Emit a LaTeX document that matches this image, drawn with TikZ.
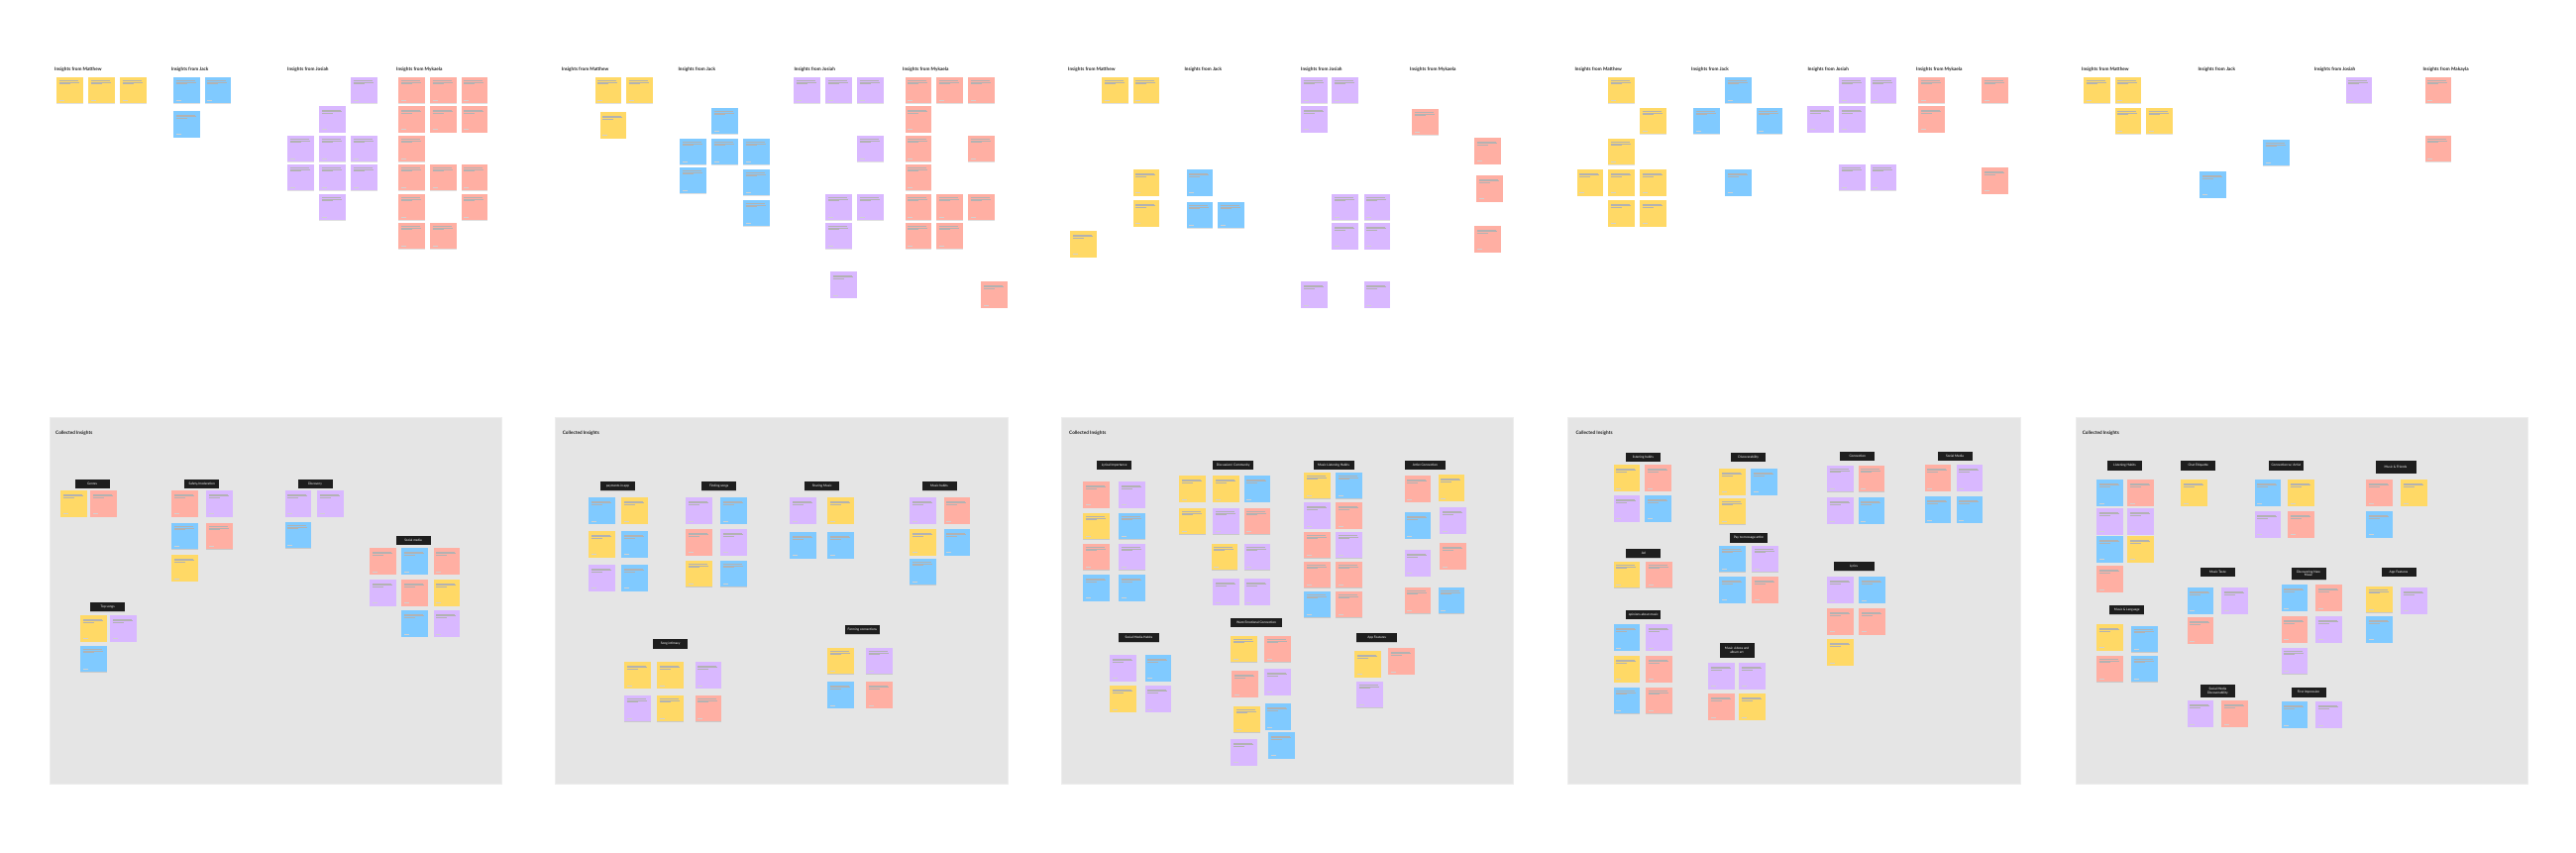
\documentclass[tikz,border=0pt]{standalone}
\usepackage{fontspec}
\setmainfont{Lato}
\usetikzlibrary{shadows}
\definecolor{stY}{HTML}{FFD966}
\definecolor{stR}{HTML}{FFAFA3}
\definecolor{stB}{HTML}{80CAFF}
\definecolor{stP}{HTML}{D9B8FF}
\definecolor{panelgray}{HTML}{E5E5E5}
\definecolor{tagblack}{HTML}{1E1E1E}
\definecolor{ink}{HTML}{1E1E1E}
\tikzset{
  sticky/.style={anchor=north west, minimum width=26.5pt, minimum height=26.5pt,
    inner sep=0pt, outer sep=0pt,
    drop shadow={shadow xshift=0pt, shadow yshift=-0.6pt, opacity=0.12, fill=black},
    path picture={
      \draw[black!30,line width=0.2pt]
        ([shift={(2.5pt,-3.6pt)}]path picture bounding box.north west) -- ++(19pt,0pt)
        ([shift={(2.5pt,-5.1pt)}]path picture bounding box.north west) -- ++(20pt,0pt)
        ([shift={(2.5pt,-6.6pt)}]path picture bounding box.north west) -- ++(11pt,0pt);
      \draw[black!18,line width=0.2pt]
        ([shift={(2.5pt,-23.3pt)}]path picture bounding box.north west) -- ++(5pt,0pt);
    }},
  tag/.style={anchor=north west, fill=tagblack, text=white,
    font=\fontsize{3.2}{3.8}\selectfont, minimum width=35pt, minimum height=9.3pt,
    inner sep=0.5pt, align=center,
    drop shadow={shadow xshift=0pt, shadow yshift=-0.5pt, opacity=0.15, fill=black}},
  hdr/.style={anchor=west, inner sep=0pt, font=\fontsize{4.7}{5.5}\selectfont\bfseries, text=ink},
  panelbox/.style={fill=panelgray, draw=black!7, line width=0.8pt}
}
\begin{document}
\begin{tikzpicture}[x=1pt,y=-1pt]
\useasboundingbox (0,0) rectangle (2600,861);
\fill[white] (0,0) rectangle (2600,861);

% ---------------- panels ----------------
\foreach \lx/\rx [count=\i] in {50/506.7,560/1017.3,1071/1527.7,1582.7/2039.3,2095/2551.7}
  \path[panelbox] (\lx,421.7) rectangle (\rx,791);
\foreach \lx [count=\i] in {56,567.7,1079,1590.3,2101.7}
  \node[hdr] (ci\i) at (\lx,437) {Collected Insights};

% ---------------- top headers ----------------
\node[hdr] (h1m) at (55,69.7) {Insights from Matthew};
\node[hdr] (h1j) at (172.7,69.7) {Insights from Jack};
\node[hdr] (h1o) at (290,69.7) {Insights from Josiah};
\node[hdr] (h1k) at (400,69.7) {Insights from Mykaela};
\node[hdr] (h2m) at (566.7,69.7) {Insights from Matthew};
\node[hdr] (h2j) at (684.3,69.7) {Insights from Jack};
\node[hdr] (h2o) at (801.3,69.7) {Insights from Josiah};
\node[hdr] (h2k) at (911,69.7) {Insights from Mykaela};
\node[hdr] (h3m) at (1078,69.7) {Insights from Matthew};
\node[hdr] (h3j) at (1195.3,69.7) {Insights from Jack};
\node[hdr] (h3o) at (1313,69.7) {Insights from Josiah};
\node[hdr] (h3k) at (1423,69.7) {Insights from Mykaela};
\node[hdr] (h4m) at (1589.3,69.7) {Insights from Matthew};
\node[hdr] (h4j) at (1707,69.7) {Insights from Jack};
\node[hdr] (h4o) at (1824.3,69.7) {Insights from Josiah};
\node[hdr] (h4k) at (1934,69.7) {Insights from Mykaela};
\node[hdr] (h5m) at (2101,69.7) {Insights from Matthew};
\node[hdr] (h5j) at (2218.3,69.7) {Insights from Jack};
\node[hdr] (h5o) at (2335.7,69.7) {Insights from Josiah};
\node[hdr] (h5k) at (2445.3,69.7) {Insights from Makayla};

% ---------------- top stickies ----------------
\foreach \cl/\x/\y [count=\i] in {
  Y/57.3/77.7, Y/89.3/77.7, Y/121/77.7,
  B/175/77.7, B/206.7/77.7, B/175/112.3,
  P/354/77.7, P/322.3/107.3, P/290/136.7, P/322.3/136.7, P/354/136.7,
  P/290/166, P/322.3/166, P/354/166, P/322.3/195.7,
  R/402.3/77.7, R/434/77.7, R/465.7/77.7, R/402.3/107.3, R/434/107.3, R/465.7/107.3,
  R/402.3/136.7, R/402.3/166, R/434/166, R/465.7/166, R/402.3/195.7, R/465.7/195.7,
  R/402.3/225, R/434/225}
  \node[sticky,fill=st\cl] (ta\i) at (\x,\y) {};

\foreach \cl/\x/\y [count=\i] in {
  Y/600.7/77.7, Y/632.3/77.7, Y/605.7/113.3,
  B/718/109, B/686.3/140, B/718/140, B/750/140, B/686.3/169, B/750/171, B/750/202,
  P/801.3/77.7, P/833.3/77.7, P/865/77.7, P/865/136.7, P/833.3/195.7, P/865/195.7,
  P/833.3/225, P/838.3/274.3,
  R/913.7/77.7, R/945/77.7, R/977/77.7, R/913.7/107.3, R/913.7/136.7, R/977/136.7,
  R/913.7/166, R/913.7/195.7, R/945/195.7, R/977/195.7, R/913.7/225, R/945/225,
  R/990.3/284.3}
  \node[sticky,fill=st\cl] (tb\i) at (\x,\y) {};

\foreach \cl/\x/\y [count=\i] in {
  Y/1112/77.7, Y/1143.7/77.7, Y/1143.7/171.3, Y/1143.7/202.3, Y/1080.3/233.3,
  B/1197.7/171.3, B/1197.7/204, B/1229.3/204,
  P/1313/77.7, P/1344.3/77.7, P/1313/107.3, P/1344.3/195.7, P/1376.7/195.7,
  P/1344.3/225.3, P/1376.7/225.3, P/1313/284.3, P/1376.7/284.3,
  R/1425/110, R/1488.3/139.3, R/1490/177.3, R/1488.3/228.3}
  \node[sticky,fill=st\cl] (tc\i) at (\x,\y) {};

\foreach \cl/\x/\y [count=\i] in {
  Y/1623.3/77.7, Y/1655/109, Y/1623.3/140, Y/1591.7/171.3, Y/1623.3/171.3,
  Y/1655/171.3, Y/1623.3/202.3, Y/1655/202.3,
  B/1741/77.7, B/1709.3/109, B/1772.7/109, B/1741/171.3,
  P/1856/77.7, P/1887.7/77.7, P/1824.3/107.3, P/1856/107.3, P/1856/166, P/1887.7/166,
  R/1936.3/77.7, R/2000/77.7, R/1936.3/107.3, R/2000/169.3}
  \node[sticky,fill=st\cl] (td\i) at (\x,\y) {};

\foreach \cl/\x/\y [count=\i] in {
  Y/2103/77.7, Y/2134.7/77.7, Y/2134.7/109, Y/2166.3/109,
  B/2284/141, B/2220.3/173.3,
  P/2367.7/77.7,
  R/2447.7/77.7, R/2447.7/136.7}
  \node[sticky,fill=st\cl] (te\i) at (\x,\y) {};

% ---------------- panel 1 ----------------
\node[tag] (g1a) at (75.3,483.3) {Genres};
\node[tag] (g1b) at (186,483.3) {Safety/moderation};
\node[tag] (g1c) at (300.3,483.3) {Discovery};
\node[tag] (g1d) at (399.3,540.3) {Social media};
\node[tag] (g1e) at (91,607.7) {Top songs};
\foreach \cl/\x/\y [count=\i] in {
  Y/61.3/495, R/91.3/495,
  R/173.3/495, P/208.3/495, B/173.3/527.7, R/208.3/527.7, Y/173.3/560.3,
  P/287.7/495, P/320/495, B/287.7/526.7,
  R/373.3/553.3, B/405.3/553.3, R/437.7/553.3, P/373.3/585, R/405.3/585, Y/437.7/585,
  B/405.3/616.3, P/437.7/616.3,
  Y/81.3/621, P/111/621, B/81.3/651.7}
  \node[sticky,fill=st\cl] (pa\i) at (\x,\y) {};

% ---------------- panel 2 ----------------
\node[tag] (g2a) at (605.7,485.7) {payments in app};
\node[tag] (g2b) at (708,485.7) {Finding songs};
\node[tag] (g2c) at (812,485.7) {Sharing Music};
\node[tag] (g2d) at (930.3,485.7) {Music habits};
\node[tag] (g2e) at (659,645) {Song intimacy};
\node[tag] (g2f) at (852.7,630.7) {Forming connections};
\foreach \cl/\x/\y [count=\i] in {
  B/594/502.3, Y/627.3/502.3, Y/594/536, B/627.3/536, P/594/570, B/627.3/570,
  P/692.3/502.3, B/727.3/502.3, R/692.3/534, P/727.3/534, Y/692.3/565.7, B/727.3/565.7,
  P/797.3/502.3, Y/835/502.3, B/797.3/537, B/835/537,
  P/918/502.3, R/952.7/502.3, Y/918/534, B/952.7/534, B/918/563.7,
  Y/630.3/668.3, Y/663.3/668.3, P/701.7/668.3, P/630.3/701.7, Y/663.3/701.7, R/701.7/701.7,
  Y/835.3/653.7, P/874/653.7, B/835.3/688.3, R/874/688.3}
  \node[sticky,fill=st\cl] (pb\i) at (\x,\y) {};

% ---------------- panel 3 ----------------
\node[tag] (g3a) at (1107,464.3) {Lyrical Importance};
\node[tag,minimum width=41pt] (g3b) at (1224,464.3) {Discussion/ Community};
\node[tag,minimum width=41pt] (g3c) at (1325.3,464.3) {Music Listening Habits};
\node[tag,minimum width=41pt] (g3d) at (1417.7,464.3) {Artist Connection};
\node[tag,minimum width=41pt] (g3e) at (1128.7,638.7) {Social Media Habits};
\node[tag,minimum width=51.7pt] (g3f) at (1242,623.3) {Want Emotional Connection};
\node[tag,minimum width=41pt] (g3g) at (1369,638.7) {App Features};
\foreach \cl/\x/\y [count=\i] in {
  R/1093.3/486, P/1129/486, Y/1093.3/517.7, B/1129/517.7, R/1093.3/548.7, P/1129/548.7,
  B/1093.3/580, B/1129/580,
  Y/1190.3/480.3, Y/1224.3/480.3, B/1255.7/480.3, Y/1190.3/512.7, P/1224.3/512.7,
  R/1255.7/512.7, Y/1222.7/548.7, P/1255.7/548.7, P/1224.3/584.3, P/1255.7/584.3,
  Y/1316.3/476.7, B/1348/476.7, P/1316.3/507.3, R/1348/507.3, R/1316.3/536.7,
  P/1348/536.7, R/1316.3/566.7, R/1348/566.7, B/1316.3/596.7, R/1348/596.7,
  R/1417.7/480.3, Y/1451.7/479.3, B/1417.7/517.3, P/1453.3/512.3, P/1417.7/555,
  R/1453.3/548.3, R/1417.7/592.7, B/1451.7/592.7,
  P/1120/661, B/1155.7/661, Y/1120/692.3, P/1155.7/692.3,
  Y/1242.3/641.7, R/1276.3/641.7, R/1243.3/677.3, P/1276.3/675, Y/1245.3/712.7,
  B/1276.7/710.3, P/1242.3/746, B/1280.3/739,
  Y/1367/657, R/1401/654.3, P/1369/687.7}
  \node[sticky,fill=st\cl] (pc\i) at (\x,\y) {};

% ---------------- panel 4 ----------------
\node[tag] (g4a) at (1640.7,456.3) {listening habits};
\node[tag] (g4b) at (1747,456.3) {Discoverability};
\node[tag] (g4c) at (1857,455.3) {Connection};
\node[tag] (g4d) at (1955.3,455.3) {Social Media};
\node[tag,minimum width=38pt] (g4e) at (1745.7,538) {Pay to message artist};
\node[tag] (g4f) at (1641,553.7) {Ad};
\node[tag,minimum width=41pt] (g4g) at (1850.3,566.7) {Lyrics};
\node[tag] (g4h) at (1641,615.3) {opinions about music};
\node[tag,minimum height=14.3pt] (g4i) at (1735.3,649) {Music videos and\\album art};
\foreach \cl/\x/\y [count=\i] in {
  Y/1628.7/469.3, R/1660.3/469.3, P/1628.7/500, B/1660.3/500,
  Y/1735.3/473, B/1767/473, Y/1735.3/502.7,
  P/1844.3/469.7, R/1875.7/469.7, P/1844.3/502.3, B/1875.7/502.3,
  R/1942.7/469.3, P/1974.7/469.3, B/1942.7/501.3, B/1974.7/501.3,
  B/1735.3/550.7, P/1768/550.7, B/1735.3/582, R/1768/582,
  Y/1628.7/566.7, R/1661/566.7,
  P/1844.3/582.3, B/1876.3/582.3, R/1844.3/614, R/1876.3/614, Y/1844.3/645.3,
  B/1628.7/630.3, P/1661/630.3, Y/1628.7/662, R/1661/662, B/1628.7/693.7, R/1661/693.7,
  P/1724/669, P/1755.3/669, R/1724/700.3, Y/1755.3/700.3}
  \node[sticky,fill=st\cl] (pd\i) at (\x,\y) {};

% ---------------- panel 5 ----------------
\node[tag] (g5a) at (2126.7,465) {Listening Habits};
\node[tag] (g5b) at (2201,465) {Chat Etiquette};
\node[tag] (g5c) at (2289.7,465) {Connection w/ Artist};
\node[tag,minimum width=41pt,minimum height=12.3pt] (g5d) at (2397.3,465) {Music \& Friends};
\node[tag] (g5e) at (2129,610.7) {Music \& Language};
\node[tag] (g5f) at (2220.7,572.3) {Music Taste};
\node[tag,minimum height=12.7pt] (g5g) at (2312.3,572.3) {Discovering New\\Music};
\node[tag] (g5h) at (2403.3,572.3) {App Features};
\node[tag,minimum height=13.4pt] (g5i) at (2220.7,690.3) {Social Media\\Discoverability};
\node[tag] (g5j) at (2312.3,694) {First Impression};
\foreach \cl/\x/\y [count=\i] in {
  B/2116/484.3, R/2147.3/484.3, P/2116/513, P/2147.3/513, B/2116/541, Y/2147.3/541,
  R/2116/571.3,
  Y/2201/484.3,
  B/2275.7/484.3, Y/2309/484.3, P/2275.7/516, R/2309/516,
  R/2388.3/484.3, Y/2423/484.3, B/2388.3/516,
  Y/2116/630, B/2151/631.7, R/2116/661.7, B/2151/661.7,
  B/2207.7/593, P/2242.3/593, R/2207.7/623.3,
  B/2302.7/590.3, R/2337.3/590.3, R/2302.7/622, P/2337.3/622, P/2302.7/653.7,
  Y/2388.3/591.7, P/2423/593, B/2388.3/622,
  P/2207.7/707.3, R/2242.3/707.3,
  B/2302.7/708.3, P/2337.3/708.3}
  \node[sticky,fill=st\cl] (pe\i) at (\x,\y) {};
\end{tikzpicture}
\end{document}
